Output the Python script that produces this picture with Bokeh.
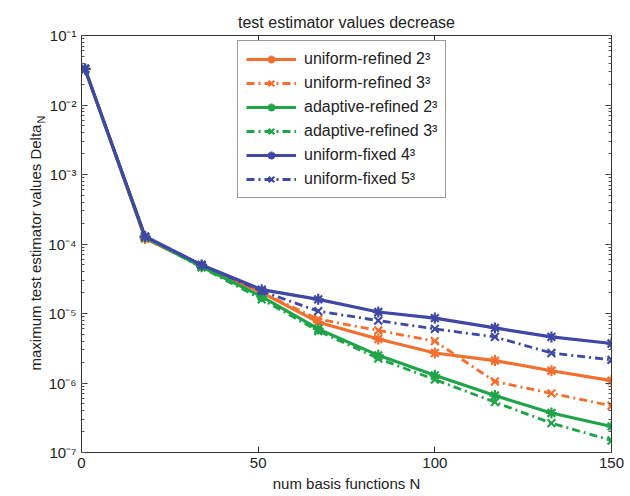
import math
from bokeh.plotting import figure
from bokeh.models import (Legend, LegendItem, Label, LogAxis, LinearAxis, FixedTicker,
                          CustomJSTickFormatter, LogTicker)
from bokeh.embed import file_html
from bokeh.resources import INLINE

# ---- data ----
N = [1, 18, 34, 51, 67, 84, 100, 117, 133, 150]
uniform_refined_2 = [3.3e-2, 1.2e-4, 4.9e-5, 2.0e-5, 7.5e-6, 4.3e-6, 2.7e-6, 2.1e-6, 1.5e-6, 1.08e-6]
uniform_refined_3 = [3.3e-2, 1.2e-4, 4.9e-5, 2.0e-5, 8.3e-6, 5.7e-6, 4.0e-6, 1.05e-6, 7.1e-7, 4.7e-7]
adaptive_refined_2 = [3.3e-2, 1.25e-4, 4.7e-5, 1.75e-5, 6.0e-6, 2.5e-6, 1.29e-6, 6.6e-7, 3.7e-7, 2.37e-7]
adaptive_refined_3 = [3.3e-2, 1.25e-4, 4.6e-5, 1.6e-5, 5.6e-6, 2.25e-6, 1.12e-6, 5.3e-7, 2.65e-7, 1.49e-7]
uniform_fixed_4 = [3.3e-2, 1.28e-4, 5.0e-5, 2.2e-5, 1.6e-5, 1.05e-5, 8.6e-6, 6.2e-6, 4.6e-6, 3.7e-6]
uniform_fixed_5 = [3.3e-2, 1.28e-4, 5.0e-5, 2.1e-5, 1.08e-5, 7.9e-6, 6.0e-6, 4.6e-6, 2.7e-6, 2.15e-6]

labels = ["uniform-refined 2³", "uniform-refined 3³", "adaptive-refined 2³",
          "adaptive-refined 3³", "uniform-fixed 4³", "uniform-fixed 5³"]
x_ticks = [0, 50, 100, 150]

ORANGE = "#f36f2f"
GREEN = "#20a44a"
BLUE = "#3f48a5"
FONT = "Liberation Sans"
TXT = "#222222"

series = [
    (uniform_refined_2, ORANGE, "solid", "asterisk"),
    (uniform_refined_3, ORANGE, "8 4 2 4", "x"),
    (adaptive_refined_2, GREEN, "solid", "asterisk"),
    (adaptive_refined_3, GREEN, "8 4 2 4", "x"),
    (uniform_fixed_4, BLUE, "solid", "asterisk"),
    (uniform_fixed_5, BLUE, "8 4 2 4", "x"),
]

p = figure(width=630, height=496, y_axis_type="log", x_range=(0, 150), y_range=(1e-7, 1e-1),
           output_backend="svg", toolbar_location=None,
           min_border_left=81, min_border_right=19, min_border_top=35, min_border_bottom=44)
p.grid.visible = False
p.background_fill_color = "white"
p.border_fill_color = "white"
p.outline_line_color = "#333333"
p.outline_line_width = 1

p.title.text = "test estimator values decrease"
p.title.align = "center"
p.title.text_font = FONT
p.title.text_font_size = "16px"
p.title.text_font_style = "normal"
p.title.text_color = TXT
p.title.standoff = 9

sup = CustomJSTickFormatter(code="""
const m = {'0':'⁰','1':'¹','2':'²','3':'³','4':'⁴','5':'⁵','6':'⁶','7':'⁷','8':'⁸','9':'⁹','-':'⁻'};
const e = Math.round(Math.log10(tick));
return '10' + String(e).split('').map(c => m[c]).join('');
""")

yax = p.yaxis[0]
yax.ticker = LogTicker(num_minor_ticks=10)
yax.formatter = sup
xax = p.xaxis[0]
xax.ticker = FixedTicker(ticks=x_ticks, minor_ticks=[])
xax.axis_label = "num basis functions N"

for ax in (xax, yax):
    ax.major_tick_in = 6
    ax.major_tick_out = 0
    ax.minor_tick_in = 3
    ax.minor_tick_out = 0
    ax.axis_line_color = "#333333"
    ax.major_tick_line_color = "#333333"
    ax.minor_tick_line_color = "#555555"
    ax.major_label_text_font = FONT
    ax.major_label_text_font_size = "15px"
    ax.major_label_text_color = TXT
    ax.axis_label_text_font = FONT
    ax.axis_label_text_font_size = "15px"
    ax.axis_label_text_font_style = "normal"
    ax.axis_label_text_color = TXT
xax.major_label_standoff = 5
xax.axis_label_standoff = 4
yax.major_label_standoff = 5

# mirrored tick axes (box style), no labels
blank = CustomJSTickFormatter(code="return '';")
rax = LogAxis(ticker=LogTicker(num_minor_ticks=10), formatter=blank,
              major_tick_in=6, major_tick_out=0, minor_tick_in=3, minor_tick_out=0,
              axis_line_color="#333333", major_tick_line_color="#333333",
              minor_tick_line_color="#555555", major_label_standoff=0)
p.add_layout(rax, "right")
tax = LinearAxis(ticker=FixedTicker(ticks=x_ticks, minor_ticks=[]), formatter=blank,
                 major_tick_in=6, major_tick_out=0, axis_line_color="#333333",
                 major_tick_line_color="#333333", major_label_standoff=0)
p.add_layout(tax, "above")

items = []
for (vals, col, dash, mk), lab in zip(series, labels):
    lw = 3.2 if dash == "solid" else 2.8
    r1 = p.line(N, vals, line_color=col, line_width=lw, line_dash=dash)
    r2 = p.scatter(N, vals, marker=mk, size=11, line_color=col, line_width=2.2, fill_color=None)
    items.append(LegendItem(label=lab, renderers=[r1, r2]))

legend = Legend(items=items, location=(156, 254), label_text_font=FONT, label_text_font_size="16px",
                label_text_color=TXT, glyph_width=50, glyph_height=20, label_height=20,
                spacing=4, padding=8, label_standoff=8, margin=0,
                border_line_color="#333333", border_line_width=1, background_fill_alpha=1.0)
p.add_layout(legend)

# y axis label with subscript, drawn in the left side panel
p.add_layout(Label(x=7, y=82, x_units="screen", y_units="screen", angle=math.pi / 2,
                   text="maximum test estimator values Delta", text_font=FONT,
                   text_font_size="15px", text_color=TXT, text_align="left",
                   text_baseline="middle"), "left")
p.add_layout(Label(x=24, y=329, x_units="screen", y_units="screen", angle=math.pi / 2,
                   text="N", text_font=FONT, text_font_size="11px", text_color=TXT,
                   text_align="left", text_baseline="middle"), "left")

open("out.html", "w").write(file_html(p, INLINE))
